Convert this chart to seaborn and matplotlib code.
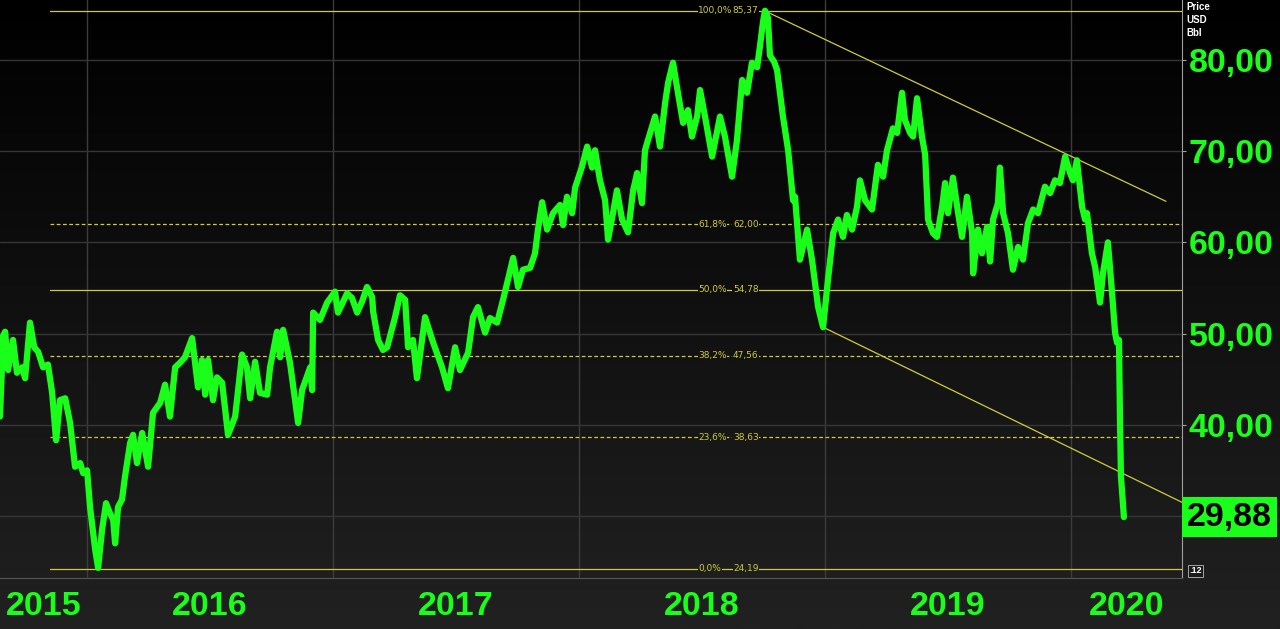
import numpy as np
import pandas as pd
import matplotlib
matplotlib.use('Agg')
import matplotlib.pyplot as plt
import matplotlib.transforms as mtrans
from matplotlib.colors import LinearSegmentedColormap
from matplotlib.ticker import FuncFormatter, MultipleLocator
import seaborn as sns

# price path (decimal year, USD/bbl)
years = [2015.646, 2015.659, 2015.667, 2015.679, 2015.699, 2015.715, 2015.736, 2015.748, 2015.768, 2015.785,
         2015.801, 2015.821, 2015.841, 2015.858, 2015.874, 2015.890, 2015.911, 2015.931, 2015.951, 2015.972,
         2015.984, 2016.000, 2016.012, 2016.033, 2016.045, 2016.061, 2016.077, 2016.093, 2016.106, 2016.114,
         2016.126, 2016.142, 2016.154, 2016.175, 2016.187, 2016.203, 2016.224, 2016.248, 2016.268, 2016.297,
         2016.317, 2016.337, 2016.358, 2016.378, 2016.398, 2016.427, 2016.451, 2016.467, 2016.480, 2016.492,
         2016.512, 2016.528, 2016.549, 2016.573, 2016.602, 2016.630, 2016.650, 2016.663, 2016.683, 2016.703,
         2016.732, 2016.744, 2016.772, 2016.785, 2016.797, 2016.825, 2016.858, 2016.874, 2016.907, 2016.915,
         2016.919, 2016.947, 2016.976, 2017.008, 2017.020, 2017.057, 2017.077, 2017.098, 2017.118, 2017.138,
         2017.159, 2017.163, 2017.183, 2017.203, 2017.220, 2017.252, 2017.272, 2017.293, 2017.305, 2017.325,
         2017.341, 2017.374, 2017.407, 2017.443, 2017.467, 2017.496, 2017.516, 2017.549, 2017.569, 2017.589,
         2017.618, 2017.638, 2017.667, 2017.691, 2017.711, 2017.732, 2017.752, 2017.772, 2017.801, 2017.821,
         2017.833, 2017.850, 2017.870, 2017.894, 2017.923, 2017.935, 2017.951, 2017.972, 2017.984, 2018.012,
         2018.033, 2018.053, 2018.065, 2018.085, 2018.106, 2018.118, 2018.138, 2018.154, 2018.175, 2018.199,
         2018.220, 2018.236, 2018.256, 2018.268, 2018.289, 2018.309, 2018.329, 2018.350, 2018.362, 2018.382,
         2018.402, 2018.423, 2018.443, 2018.459, 2018.480, 2018.492, 2018.512, 2018.541, 2018.573, 2018.593,
         2018.622, 2018.642, 2018.663, 2018.683, 2018.703, 2018.724, 2018.736, 2018.748, 2018.756, 2018.768,
         2018.776, 2018.793, 2018.805, 2018.829, 2018.850, 2018.870, 2018.878, 2018.898, 2018.927, 2018.947,
         2018.972, 2018.992, 2019.012, 2019.033, 2019.053, 2019.073, 2019.089, 2019.110, 2019.130, 2019.142,
         2019.163, 2019.191, 2019.215, 2019.236, 2019.252, 2019.276, 2019.293, 2019.313, 2019.325, 2019.346,
         2019.358, 2019.374, 2019.394, 2019.407, 2019.419, 2019.439, 2019.455, 2019.476, 2019.488, 2019.500,
         2019.520, 2019.541, 2019.557, 2019.577, 2019.598, 2019.602, 2019.622, 2019.638, 2019.659, 2019.671,
         2019.683, 2019.703, 2019.711, 2019.724, 2019.744, 2019.764, 2019.785, 2019.805, 2019.825, 2019.846,
         2019.866, 2019.894, 2019.915, 2019.935, 2019.955, 2019.976, 2019.996, 2020.008, 2020.024, 2020.045,
         2020.057, 2020.065, 2020.085, 2020.098, 2020.118, 2020.130, 2020.150, 2020.167, 2020.179, 2020.187,
         2020.195, 2020.199, 2020.203, 2020.207, 2020.215]
prices = [40.9, 49.8, 50.2, 46.0, 49.3, 45.7, 46.3, 45.1, 51.2, 48.5,
          48.0, 46.3, 46.6, 43.5, 38.3, 42.7, 42.9, 40.2, 35.4, 35.8,
          34.7, 35.0, 31.0, 26.3, 24.3, 28.5, 31.4, 30.3, 29.6, 27.0,
          31.0, 31.8, 34.3, 38.0, 38.9, 35.8, 39.1, 35.4, 41.3, 42.4,
          44.4, 40.9, 46.3, 46.8, 47.4, 49.5, 44.1, 47.1, 43.3, 47.1,
          42.7, 45.2, 44.6, 38.9, 40.9, 47.7, 46.3, 42.9, 46.9, 43.5,
          43.3, 46.3, 50.2, 47.4, 50.4, 46.8, 40.2, 43.8, 46.3, 43.8,
          52.3, 51.5, 53.4, 54.6, 52.3, 54.4, 53.9, 52.3, 53.5, 55.1,
          54.0, 52.4, 49.3, 48.2, 48.5, 51.8, 54.2, 53.7, 48.5, 49.3,
          45.1, 51.8, 49.0, 46.3, 44.0, 48.5, 46.0, 47.9, 51.8, 52.9,
          50.1, 51.7, 51.2, 53.7, 55.9, 58.3, 55.1, 57.0, 57.2, 58.8,
          61.4, 64.4, 61.4, 63.2, 64.1, 61.9, 65.0, 63.2, 66.0, 68.3,
          70.5, 68.2, 70.1, 66.8, 64.6, 60.3, 63.2, 65.7, 62.5, 61.1,
          65.7, 67.6, 64.3, 70.1, 72.0, 73.8, 70.5, 75.3, 77.5, 79.7,
          76.4, 73.1, 74.5, 71.6, 73.8, 76.7, 73.8, 69.4, 73.8, 71.6,
          67.2, 71.2, 77.8, 76.4, 79.7, 79.2, 81.6, 84.2, 85.4, 84.6,
          80.5, 79.8, 78.9, 73.8, 70.1, 64.6, 65.0, 58.1, 61.4, 58.1,
          52.9, 50.7, 55.9, 61.0, 62.5, 60.6, 63.0, 61.4, 63.9, 66.8,
          64.6, 63.6, 68.5, 67.2, 70.1, 72.5, 72.0, 76.4, 73.4, 72.0,
          71.6, 75.8, 71.6, 69.6, 62.5, 61.0, 60.6, 63.9, 66.5, 63.2,
          67.1, 63.2, 60.6, 65.0, 61.0, 56.6, 61.4, 58.8, 61.7, 57.9,
          62.5, 64.3, 68.2, 63.2, 61.0, 57.0, 59.5, 58.1, 62.1, 63.6,
          63.2, 66.1, 65.4, 66.8, 66.5, 69.4, 67.6, 66.8, 69.0, 63.9,
          62.5, 63.2, 58.8, 57.3, 53.4, 56.6, 60.0, 54.4, 50.1, 49.0,
          49.3, 40.9, 34.3, 32.9, 29.88]

fib_pct = ['0,0%', '23,6%', '38,2%', '50,0%', '61,8%', '100,0%']
fib_val = [24.19, 38.63, 47.56, 54.78, 62.00, 85.37]
fib_dashed = [False, True, True, False, True, False]

upper_trend_x = [2018.756, 2020.386]
upper_trend_y = [85.37, 64.5]
lower_trend_x = [2018.992, 2020.451]
lower_trend_y = [50.7, 31.5]

year_labels = [2015, 2016, 2017, 2018, 2019, 2020]
price_ticks = [30, 40, 50, 60, 70, 80]
last_price = 29.88

df = pd.DataFrame({'year': years, 'price': prices})

sns.set_style('dark')
plt.rcParams['font.family'] = ['Liberation Sans', 'DejaVu Sans']

GREEN = '#19ff19'
FIB = '#cfcb3c'
XMIN, XMAX = 2015.646, 2020.451
YMIN, YMAX = 23.2, 86.58
AX_BOX = [0.0, 0.0811, 0.9234, 0.919]

fig = plt.figure(figsize=(12.8, 6.29), dpi=100)

# background gradient over the whole figure
bg = fig.add_axes([0, 0, 1, 1])
cmap = LinearSegmentedColormap.from_list('bg', ['#000000', '#212121'])
bg.imshow(np.linspace(0, 1, 256).reshape(-1, 1), cmap=cmap, aspect='auto',
          extent=[0, 1, 0, 1], origin='upper')
bg.set_xlim(0, 1)
bg.set_ylim(0, 1)
bg.axis('off')

def shade_at(p):
    yf = AX_BOX[1] + AX_BOX[3] * (p - YMIN) / (YMAX - YMIN)
    return cmap(1 - yf)

ax = fig.add_axes(AX_BOX)
ax.set_facecolor('none')
ax.set_xlim(XMIN, XMAX)
ax.set_ylim(YMIN, YMAX)

# grid
ax.set_yticks(price_ticks)
ax.set_xticks([2016, 2017, 2018, 2019, 2020])
ax.xaxis.set_minor_locator(MultipleLocator(1 / 36))
ax.grid(axis='y', color='#363636', lw=1)
ax.grid(axis='x', which='major', color='#3c3c3c', lw=1)

# fibonacci levels
x_fib0 = 2015.849
for pct, val, dashed in zip(fib_pct, fib_val, fib_dashed):
    ls = (0, (3, 2)) if dashed else '-'
    ax.plot([x_fib0, XMAX], [val, val], color=FIB, lw=0.9, ls=ls, zorder=2)
    bc = shade_at(val)
    ax.text(2018.484, val, pct, ha='left', va='center', fontsize=6.5, color=FIB,
            family='DejaVu Sans', zorder=3,
            bbox=dict(boxstyle='square,pad=0.06', fc=bc, ec='none'))
    ax.text(2018.730, val, f'{val:.2f}'.replace('.', ','), ha='right', va='center',
            fontsize=6.5, color=FIB, family='DejaVu Sans', zorder=3,
            bbox=dict(boxstyle='square,pad=0.06', fc=bc, ec='none'))

# trend channel
ax.plot(upper_trend_x, upper_trend_y, color=FIB, lw=0.9, zorder=2)
ax.plot(lower_trend_x, lower_trend_y, color=FIB, lw=0.9, zorder=2)

sns.lineplot(data=df, x='year', y='price', ax=ax, color=GREEN, lw=4.5,
             sort=False, estimator=None, zorder=4)
ax.set_xlabel('')
ax.set_ylabel('')

# axes styling
for s in ['left', 'top']:
    ax.spines[s].set_visible(False)
ax.spines['right'].set_color('#a0a0a0')
ax.spines['bottom'].set_color('#555555')
ax.yaxis.tick_right()
ax.yaxis.set_major_formatter(FuncFormatter(
    lambda v, _: '' if v < 35 else f'{v:.2f}'.replace('.', ',')))
ax.tick_params(axis='y', which='major', colors='#a0a0a0', length=3, pad=2,
               labelsize=24.5, labelcolor=GREEN)
for lbl in ax.get_yticklabels():
    lbl.set_fontweight('bold')
ax.tick_params(axis='x', which='major', length=36, color='#0c0c0c', width=1.2,
               labelbottom=False)
ax.tick_params(axis='x', which='minor', length=2.5, color='#777777', width=0.8)

# year labels centred on the visible part of each year
tr = mtrans.blended_transform_factory(ax.transData, fig.transFigure)
for yr in year_labels:
    lo, hi = max(yr, XMIN), min(yr + 1, XMAX)
    ax.text((lo + hi) / 2, 0.035, str(yr), transform=tr, ha='center', va='center',
            fontsize=24.5, fontweight='bold', color=GREEN, clip_on=False)

# last price box
ax.annotate(f'{last_price:.2f}'.replace('.', ','), xy=(1, last_price),
            xycoords=('axes fraction', 'data'), xytext=(5, 0), textcoords='offset pixels',
            ha='left', va='center', fontsize=24.5, fontweight='bold', color='black',
            annotation_clip=False, zorder=6,
            bbox=dict(boxstyle='square,pad=0.14', fc=GREEN, ec='none'))
ax.annotate('.12', xy=(1, 24.0), xycoords=('axes fraction', 'data'), xytext=(7, 0),
            textcoords='offset pixels', ha='left', va='center', fontsize=6.5,
            fontweight='bold', color='white', annotation_clip=False,
            bbox=dict(boxstyle='square,pad=0.15', fc='#1a1a1a', ec='#bbbbbb', lw=0.6))

for i, t in enumerate(['Price', 'USD', 'Bbl']):
    fig.text(1186 / 1280, 1 - (7 + 13 * i) / 629, t, ha='left', va='center',
             fontsize=7, fontweight='bold', color='white')

fig.savefig('out.png', dpi=100)
